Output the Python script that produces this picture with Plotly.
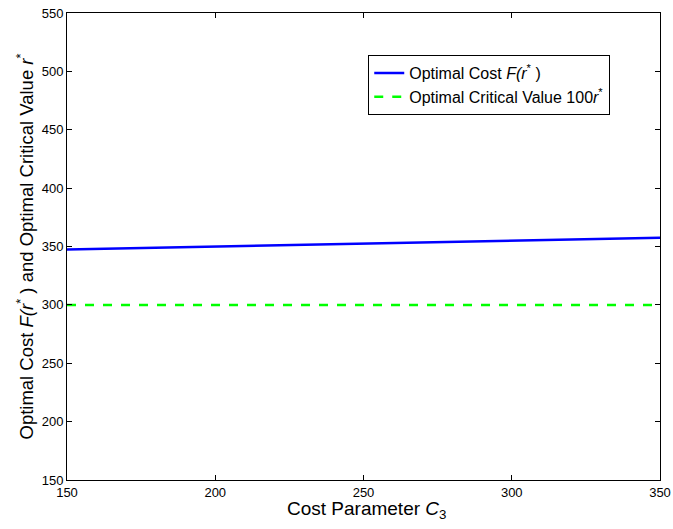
import plotly.graph_objects as go

cost_c3 = [150, 200, 250, 300, 350]
optimal_cost = [347.5, 350.0, 352.5, 355.0, 357.5]
critical_value_100r = [300, 300, 300, 300, 300]
x_ticks = [150, 200, 250, 300, 350]
y_ticks = [150, 200, 250, 300, 350, 400, 450, 500, 550]

FONT = "Liberation Sans, Arial"

fig = go.Figure()
fig.add_trace(go.Scatter(
    x=cost_c3, y=optimal_cost, mode="lines",
    line=dict(color="#0000ff", width=2.5),
    name="Optimal Cost <i>F(r</i><sup>*</sup> )"))
fig.add_trace(go.Scatter(
    x=cost_c3, y=critical_value_100r, mode="lines",
    line=dict(color="#00ff00", width=2.5, dash="dash"),
    name="Optimal Critical Value 100<i>r</i><sup>*</sup>"))

axis_common = dict(
    showgrid=False, zeroline=False, showline=True, linecolor="black", linewidth=1,
    mirror="ticks", ticks="inside", ticklen=5, tickcolor="black", automargin=False,
    tickfont=dict(family=FONT, size=13, color="black"),
)
fig.update_xaxes(range=[150, 350], tickvals=x_ticks, **axis_common)
fig.update_yaxes(range=[150, 550], tickvals=y_ticks,
                 title=dict(text="Optimal Cost <i>F(r</i><sup>*</sup> ) and Optimal Critical Value <i>r</i><sup>*</sup>",
                            font=dict(family=FONT, size=18.5, color="black"),
                            standoff=3),
                 **axis_common)

# x-axis title placed as an annotation so it can sit closer to the tick labels
fig.add_annotation(
    text="Cost Parameter <i>C</i><sub>3</sub>", xref="paper", yref="paper",
    x=0.5, y=0, xanchor="center", yanchor="top", xshift=3, yshift=-16,
    showarrow=False, font=dict(family=FONT, size=19, color="black"))

fig.update_layout(
    width=673, height=529,
    margin=dict(l=67, r=13, t=13, b=49, autoexpand=False),
    paper_bgcolor="white", plot_bgcolor="white",
    legend=dict(x=0.508, y=0.91, xanchor="left", yanchor="top",
                bordercolor="black", borderwidth=1, bgcolor="white",
                font=dict(family=FONT, size=16, color="black"),
                tracegroupgap=0, itemwidth=30),
    showlegend=True,
)

fig.write_html("out.html")
